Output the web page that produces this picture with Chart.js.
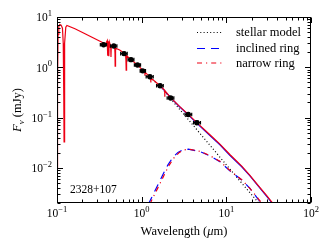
<!DOCTYPE html>
<html><head><meta charset="utf-8">
<script src="https://cdn.jsdelivr.net/npm/chart.js@4/dist/chart.umd.min.js"></script>
<style>html,body{margin:0;padding:0;background:#fff;}#wrap{width:330px;height:250px;}</style>
</head><body><div id="wrap"><canvas id="c" width="330" height="250"></canvas></div>
<script>
// ---- data ----
const xTickValues = [0.1, 1, 10, 100];
const xTickExps = ['\u22121', '0', '1', '2'];
const yTickValues = [0.01, 0.1, 1, 10];
const yTickExps = ['\u22122', '\u22121', '0', '1'];

// photometry (micron, mJy)
const photWave   = [0.355, 0.469, 0.620, 0.748, 0.893, 1.03, 1.25, 1.65, 2.20, 3.55, 4.49];
const photFlux   = [2.80, 2.65, 1.87, 1.42, 1.11, 0.85, 0.65, 0.43, 0.245, 0.115, 0.079];
const photWaveLo = [0.325, 0.43, 0.565, 0.69, 0.82, 0.96, 1.13, 1.50, 2.00, 3.25, 4.10];
const photWaveHi = [0.385, 0.51, 0.675, 0.81, 0.97, 1.11, 1.37, 1.80, 2.40, 3.90, 4.95];
const photFluxLo = [2.62, 2.48, 1.75, 1.33, 1.04, 0.80, 0.61, 0.40, 0.23, 0.107, 0.073];
const photFluxHi = [2.98, 2.82, 1.99, 1.51, 1.18, 0.90, 0.69, 0.46, 0.26, 0.123, 0.085];

// full model, narrow ring (red solid)
const totalNarrowWave = [0.1001,0.1015,0.103,0.105,0.108,0.112,0.116,0.1185,0.1202,0.1212,0.1222,0.1238,0.127,0.131,
  0.163,0.203,0.259,0.322,0.345,0.36,0.375,0.385,0.392,0.3955,0.397,0.3985,0.403,0.4085,0.410,0.4115,0.418,0.431,0.434,0.437,
  0.45,0.469,0.48,0.484,0.486,0.488,0.495,0.55,0.62,0.645,0.652,0.656,0.660,0.667,0.748,0.893,1.0,1.04,1.09,1.094,1.098,
  1.25,1.278,1.282,1.286,1.65,1.87,1.875,1.88,2.2,2.8,3.55,4.9,6.4,8.4,11,15.2,19,24,30,36,42];
const totalNarrowFlux = [0.010,0.5,4.5,6.6,7.1,6.9,6.0,3.0,0.3,0.033,0.3,3.0,6.3,6.8,
  5.85,4.86,3.96,3.29,3.1,2.95,2.85,3.2,3.4,2.6,1.7,2.6,3.3,2.5,1.66,2.5,3.1,2.6,1.6,2.5,
  2.8,2.65,2.5,1.9,1.05,1.9,2.4,2.2,1.9,1.75,1.4,0.88,1.4,1.7,1.42,1.11,0.92,0.86,0.80,0.68,0.79,
  0.645,0.62,0.50,0.61,0.43,0.35,0.26,0.345,0.25,0.167,0.116,0.069,0.0455,0.0297,0.0184,0.0108,0.0071,0.0044,0.0028,0.0019,0.0014];

// full model, inclined ring (blue solid)
const totalInclWave = [1.65, 2.2, 2.8, 3.55, 4.9, 6.4, 8.4, 11, 15.2, 19, 24, 30, 36, 42];
const totalInclFlux = [0.43, 0.249, 0.164, 0.113, 0.067, 0.044, 0.0288, 0.0178, 0.0105, 0.0069, 0.0043, 0.0027, 0.00185, 0.00136];

// stellar model (black dotted)
const starWave = [1.25, 1.65, 2.2, 2.8, 3.5, 4.5, 6, 8, 10, 13, 17, 22, 26];
const starFlux = [0.635, 0.42, 0.238, 0.147, 0.094, 0.057, 0.032, 0.018, 0.0115, 0.0068, 0.0040, 0.0024, 0.0017];

// inclined ring dust (blue dashed)
const inclWave = [1.2, 1.36, 1.557, 1.784, 2.044, 2.342, 2.683, 3.07, 3.55, 4.88, 6.4, 8.4, 11, 15.2, 19, 23.8, 30, 35];
const inclFlux = [0.0019, 0.0029, 0.0046, 0.0074, 0.0115, 0.0162, 0.0203, 0.0228, 0.0235, 0.0211, 0.0173, 0.0133, 0.0087, 0.00575, 0.0039, 0.00237, 0.0015, 0.0011];

// narrow ring dust (red dash-dot)
const narrowWave = [1.25, 1.41, 1.62, 1.855, 2.125, 2.435, 2.79, 3.19, 3.65, 4.9, 6.4, 8.4, 11, 15.2, 19, 24, 30, 35];
const narrowFlux = [0.0019, 0.0029, 0.0046, 0.0074, 0.0115, 0.0162, 0.0203, 0.0228, 0.0235, 0.0213, 0.0175, 0.0135, 0.0089, 0.0058, 0.0039, 0.0024, 0.0015, 0.0011];

const legendLabels = ['stellar model', 'inclined ring', 'narrow ring'];
const annotationText = '2328+107';

// ---- chart ----
const RED = 'rgb(238,0,20)', BLUE = 'rgb(0,0,255)';
const pts = (xs, ys) => xs.map((x, i) => ({x: x, y: ys[i]}));
const SERIF = '"Liberation Serif", "DejaVu Serif", serif';

const deco = {
  id: 'deco',
  afterDatasetsDraw(chart) {
    const ctx = chart.ctx, xs = chart.scales.x, ys = chart.scales.y, a = chart.chartArea;
    ctx.save();
    // error bars + markers
    ctx.strokeStyle = '#000'; ctx.fillStyle = '#000'; ctx.lineWidth = 1.2;
    for (let i = 0; i < photWave.length; i++) {
      const px = xs.getPixelForValue(photWave[i]), py = ys.getPixelForValue(photFlux[i]);
      const x0 = xs.getPixelForValue(photWaveLo[i]), x1 = xs.getPixelForValue(photWaveHi[i]);
      const y0 = ys.getPixelForValue(photFluxLo[i]), y1 = ys.getPixelForValue(photFluxHi[i]);
      ctx.beginPath();
      ctx.moveTo(x0, py); ctx.lineTo(x1, py);
      ctx.moveTo(x0, py - 1.8); ctx.lineTo(x0, py + 1.8);
      ctx.moveTo(x1, py - 1.8); ctx.lineTo(x1, py + 1.8);
      ctx.moveTo(px, y0); ctx.lineTo(px, y1);
      ctx.moveTo(px - 1.8, y0); ctx.lineTo(px + 1.8, y0);
      ctx.moveTo(px - 1.8, y1); ctx.lineTo(px + 1.8, y1);
      ctx.stroke();
      ctx.beginPath(); ctx.arc(px, py, 2.7, 0, Math.PI * 2); ctx.fill();
    }
    // frame
    const L = Math.round(a.left) + 0.5, R = Math.round(a.right) - 0.5, T = Math.round(a.top) + 0.5, B = Math.round(a.bottom) - 0.5;
    ctx.lineWidth = 1; ctx.strokeStyle = '#000';
    ctx.strokeRect(L, T, R - L, B - T);
    // ticks
    ctx.beginPath();
    for (let k = -1; k <= 2; k++) {
      for (let m = 1; m <= 9; m++) {
        const v = m * Math.pow(10, k);
        if (v < 0.1 - 1e-9 || v > 100 + 1e-9) continue;
        const p = Math.round(xs.getPixelForValue(v)) + 0.5;
        const len = m === 1 ? 5.5 : 3;
        ctx.moveTo(p, B); ctx.lineTo(p, B - len);
        ctx.moveTo(p, T); ctx.lineTo(p, T + len);
      }
    }
    for (let k = -3; k <= 1; k++) {
      for (let m = 1; m <= 9; m++) {
        const v = m * Math.pow(10, k);
        if (v < 0.002 - 1e-9 || v > 10 + 1e-9) continue;
        const p = Math.round(ys.getPixelForValue(v)) + 0.5;
        const len = m === 1 ? 5.5 : 3;
        ctx.moveTo(L, p); ctx.lineTo(L + len, p);
        ctx.moveTo(R, p); ctx.lineTo(R - len, p);
      }
    }
    ctx.stroke();
    // tick labels
    ctx.fillStyle = '#000'; ctx.textBaseline = 'alphabetic'; ctx.textAlign = 'left';
    const big = '11.5px ' + SERIF, small = '8.5px ' + SERIF;
    xTickValues.forEach((v, i) => {
      const p = xs.getPixelForValue(v);
      ctx.font = big; const w1 = ctx.measureText('10').width;
      ctx.font = small; const w2 = ctx.measureText(xTickExps[i]).width;
      const s = p - (w1 + w2) / 2;
      ctx.font = big; ctx.fillText('10', s, 217);
      ctx.font = small; ctx.fillText(xTickExps[i], s + w1, 211.5);
    });
    yTickValues.forEach((v, i) => {
      const p = ys.getPixelForValue(v);
      ctx.font = big; const w1 = ctx.measureText('10').width;
      ctx.font = small; const w2 = ctx.measureText(yTickExps[i]).width;
      const s = 52 - (w1 + w2);
      ctx.font = big; ctx.fillText('10', s, p + 4.3);
      ctx.font = small; ctx.fillText(yTickExps[i], s + w1, p - 1);
    });
    // x axis label
    const lab = '12.5px ' + SERIF, labI = 'italic 12.5px ' + SERIF;
    const parts = [['Wavelength (', lab], ['\u03bc', labI], ['m)', lab]];
    let tw = 0; parts.forEach(p => { ctx.font = p[1]; tw += ctx.measureText(p[0]).width; });
    let sx = (a.left + a.right) / 2 - tw / 2;
    parts.forEach(p => { ctx.font = p[1]; ctx.fillText(p[0], sx, 235); sx += ctx.measureText(p[0]).width; });
    // y axis label
    ctx.save();
    ctx.translate(21, (a.top + a.bottom) / 2);
    ctx.rotate(-Math.PI / 2);
    const yparts = [['F', labI, 0], ['\u03bd', 'italic 9px ' + SERIF, 2.5], [' (mJy)', lab, 0]];
    tw = 0; yparts.forEach(p => { ctx.font = p[1]; tw += ctx.measureText(p[0]).width; });
    sx = -tw / 2;
    yparts.forEach(p => { ctx.font = p[1]; ctx.fillText(p[0], sx, p[2]); sx += ctx.measureText(p[0]).width; });
    ctx.restore();
    // legend
    const leg = [
      {color: '#000', dash: [1, 2.3], y: 32.5},
      {color: BLUE, dash: [8, 6], y: 48.5},
      {color: RED, dash: [5, 4, 1.2, 4], y: 63}
    ];
    ctx.lineWidth = 1.2;
    leg.forEach((e, i) => {
      ctx.strokeStyle = e.color; ctx.setLineDash(e.dash);
      ctx.beginPath(); ctx.moveTo(197, e.y); ctx.lineTo(222, e.y); ctx.stroke();
      ctx.setLineDash([]);
      ctx.font = '12.5px ' + SERIF; ctx.fillStyle = '#000';
      ctx.fillText(legendLabels[i], 236, e.y + 3.5);
    });
    // annotation
    ctx.font = '11.5px ' + SERIF;
    ctx.fillText(annotationText, 70, 193);
    ctx.restore();
  }
};

new Chart(document.getElementById('c'), {
  type: 'line',
  data: {
    datasets: [
      {data: pts(starWave, starFlux), borderColor: '#000', borderWidth: 1.2, borderDash: [1, 2.3], pointRadius: 0, fill: false, tension: 0, order: 5},
      {data: pts(inclWave, inclFlux), borderColor: BLUE, borderWidth: 1.2, borderDash: [8, 6], pointRadius: 0, fill: false, tension: 0, order: 4},
      {data: pts(narrowWave, narrowFlux), borderColor: RED, borderWidth: 1.2, borderDash: [5, 4, 1.2, 4], pointRadius: 0, fill: false, tension: 0, order: 3},
      {data: pts(totalInclWave, totalInclFlux), borderColor: BLUE, borderWidth: 1.2, pointRadius: 0, fill: false, tension: 0, order: 2},
      {data: pts(totalNarrowWave, totalNarrowFlux), borderColor: RED, borderWidth: 1.2, pointRadius: 0, fill: false, tension: 0, order: 1}
    ]
  },
  options: {
    responsive: false, devicePixelRatio: 1, animation: false,
    layout: {padding: {left: 57, top: 17, right: 19, bottom: 47}},
    scales: {
      x: {type: 'logarithmic', min: 0.1, max: 100, display: false},
      y: {type: 'logarithmic', min: 0.002, max: 10, display: false}
    },
    plugins: {legend: {display: false}, tooltip: {enabled: false}},
    elements: {line: {borderJoinStyle: 'miter', borderCapStyle: 'butt'}}
  },
  plugins: [deco]
});
</script></body></html>
